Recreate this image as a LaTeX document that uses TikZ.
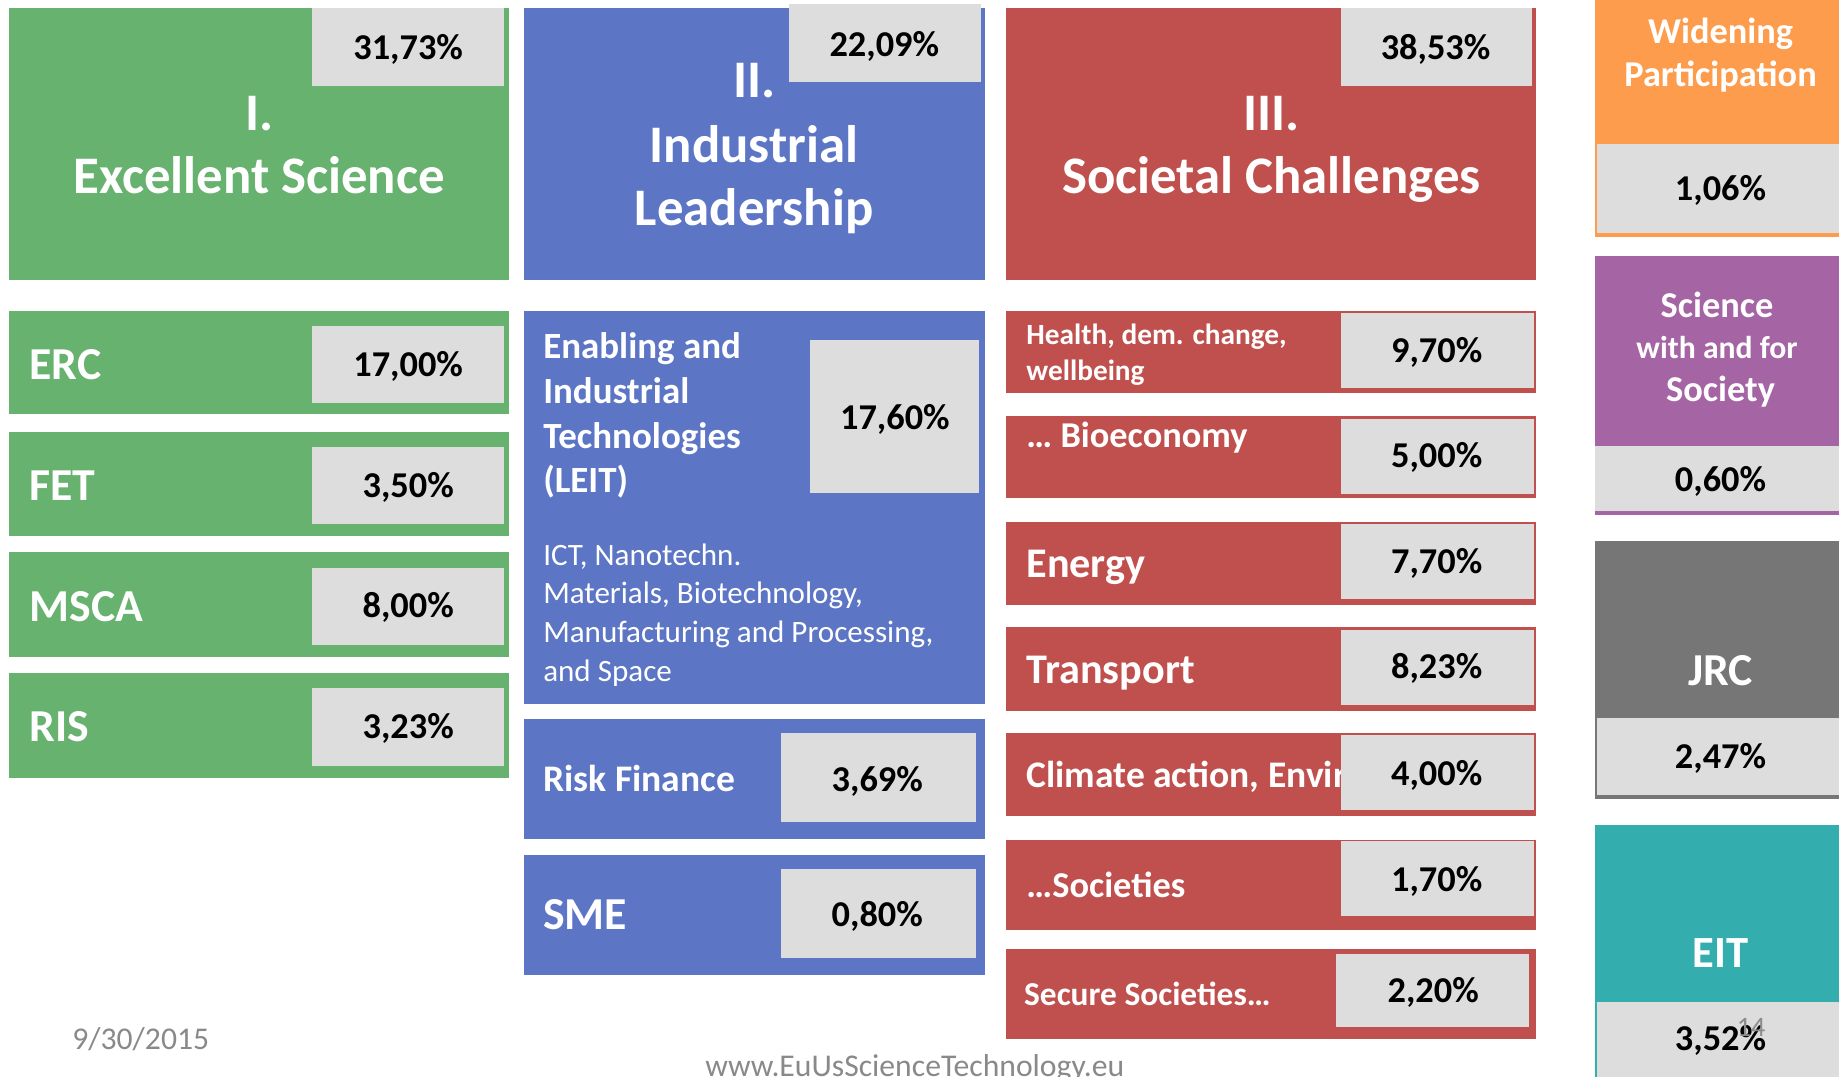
\documentclass[tikz,border=0pt]{standalone}
\usepackage{fontspec}
\setmainfont{Carlito}
\definecolor{grn}{RGB}{103,178,111}
\definecolor{blu}{RGB}{92,118,197}
\definecolor{rd}{RGB}{192,80,77}
\definecolor{org}{RGB}{253,156,77}
\definecolor{prp}{RGB}{165,101,164}
\definecolor{gry}{RGB}{118,118,118}
\definecolor{tea}{RGB}{51,173,174}
\definecolor{pg}{RGB}{221,221,221}
\definecolor{ft}{RGB}{137,137,137}
\newcommand\fz[1]{\fontsize{#1}{#1}\selectfont}
\begin{document}
\begin{tikzpicture}[x=1pt,y=-1pt,
 box/.style={inner sep=0pt, outer sep=0pt, anchor=north west, draw=none},
 pbox/.style={box, fill=pg},
 capc/.style={inner sep=0pt, anchor=base, yshift={-0.32*#1}},
 ttl/.style={capc=45, text=white, font=\bfseries\fz{45}},
 lab/.style={capc=#1, anchor=base west, text=white, font=\bfseries\fz{#1}},
 labc/.style={capc=#1, text=white, font=\bfseries\fz{#1}},
 pc/.style={capc=31, text=black, font=\bfseries\fz{31}},
 reg/.style={capc=26.5, anchor=base west, text=white, font=\fz{26.5}},
 foot/.style={capc=#1, text=ft, font=\fz{#1}},
]
\useasboundingbox (0,0) rectangle (1568,918);
\clip (0,0) rectangle (1568,918);

% ---------- Column I (green) ----------
\node[box, fill=grn, minimum width=426, minimum height=232] (es) at (8,7) {};
\node[pbox, minimum width=164, minimum height=66] (esp) at (266,7) {};
\node[pc] (espt) at (348,41) {31,73\%};
\node[ttl] (es1) at (221,97) {I.};
\node[ttl] (es2) at (221,151) {Excellent Science};

\node[box, fill=grn, minimum width=426, minimum height=88] (erc) at (8,265) {};
\node[pbox, minimum width=164, minimum height=66] (ercp) at (266,278) {};
\node[lab=39] (ercl) at (25,311) {ERC};
\node[pc] (ercpt) at (348,311) {17,00\%};

\node[box, fill=grn, minimum width=426, minimum height=89] (fet) at (8,368) {};
\node[pbox, minimum width=164, minimum height=66] (fetp) at (266,381) {};
\node[lab=39] (fetl) at (25,414) {FET};
\node[pc] (fetpt) at (348,414) {3,50\%};

\node[box, fill=grn, minimum width=426, minimum height=89] (msca) at (8,471) {};
\node[pbox, minimum width=164, minimum height=66] (mscap) at (266,484) {};
\node[lab=39] (mscal) at (25,517) {MSCA};
\node[pc] (mscapt) at (348,517) {8,00\%};

\node[box, fill=grn, minimum width=426, minimum height=89] (ris) at (8,574) {};
\node[pbox, minimum width=164, minimum height=66] (risp) at (266,587) {};
\node[lab=39] (risl) at (25,620) {RIS};
\node[pc] (rispt) at (348,620) {3,23\%};

% ---------- Column II (blue) ----------
\node[box, fill=blu, minimum width=393, minimum height=232] (il) at (447,7) {};
\node[pbox, minimum width=163, minimum height=67] (ilp) at (673,3) {};
\node[pc] (ilpt) at (754,38) {22,09\%};
\node[ttl] (il1) at (643,69) {II.};
\node[ttl] (il2) at (643,124) {Industrial};
\node[ttl] (il3) at (643,178) {Leadership};

\node[box, fill=blu, minimum width=393, minimum height=335] (leit) at (447,265) {};
\node[pbox, minimum width=144, minimum height=130] (leitp) at (691,290) {};
\node[pc] (leitpt) at (763,356) {17,60\%};
\node[lab=31.5] (leit1) at (463,296) {Enabling and};
\node[lab=31.5] (leit2) at (463,334) {Industrial};
\node[lab=31.5] (leit3) at (463,372) {Technologies};
\node[lab=31.5] (leit4) at (463,410) {(LEIT)};
\node[reg] (leit5) at (463,473.5) {ICT, Nanotechn.};
\node[reg] (leit6) at (463,506.5) {Materials, Biotechnology,};
\node[reg] (leit7) at (463,539.5) {Manufacturing and Processing,};
\node[reg] (leit8) at (463,572.5) {and Space};

\node[box, fill=blu, minimum width=393, minimum height=102] (rf) at (447,613) {};
\node[pbox, minimum width=166, minimum height=76] (rfp) at (666,625) {};
\node[lab=32] (rfl) at (463,665) {Risk Finance};
\node[pc] (rfpt) at (748,665) {3,69\%};

\node[box, fill=blu, minimum width=393, minimum height=102] (sme) at (447,729) {};
\node[pbox, minimum width=166, minimum height=76] (smep) at (666,741) {};
\node[lab=39] (smel) at (463,780) {SME};
\node[pc] (smept) at (748,780) {0,80\%};

% ---------- Column III (red) ----------
\node[box, fill=rd, minimum width=452, minimum height=232] (sc) at (858,7) {};
\node[pbox, minimum width=163, minimum height=66] (scp) at (1143,7) {};
\node[pc] (scpt) at (1224,41) {38,53\%};
\node[ttl] (sc1) at (1084,97) {III.};
\node[ttl] (sc2) at (1084,151) {Societal Challenges};

\node[box, fill=rd, minimum width=452, minimum height=70] (hl) at (858,265) {};
\node[lab=25] (hl1) at (875,286) {Health, dem. change,};
\node[lab=25] (hl2) at (875,316) {wellbeing};
\node[pbox, minimum width=165, minimum height=64] (hlp) at (1143,267) {};
\node[pc] (hlpt) at (1225,299) {9,70\%};

\node[box, fill=rd, minimum width=452, minimum height=70] (bio) at (858,355) {};
\node[lab=31] (biol) at (875,372) {… Bioeconomy};
\node[pbox, minimum width=165, minimum height=64] (biop) at (1143,357) {};
\node[pc] (biopt) at (1225,389) {5,00\%};

\node[box, fill=rd, minimum width=452, minimum height=71] (en) at (858,445) {};
\node[lab=36] (enl) at (875,481) {Energy};
\node[pbox, minimum width=165, minimum height=64] (enp) at (1143,447) {};
\node[pc] (enpt) at (1225,479) {7,70\%};

\node[box, fill=rd, minimum width=452, minimum height=71] (tr) at (858,535) {};
\node[lab=36] (trl) at (875,571) {Transport};
\node[pbox, minimum width=165, minimum height=64] (trp) at (1143,537) {};
\node[pc] (trpt) at (1225,569) {8,23\%};

\node[box, fill=rd, minimum width=452, minimum height=71] (cl) at (858,625) {};
\begin{scope}
\clip (858,625) rectangle (1143,696);
\node[lab=32] (cll) at (875,661) {Climate action, Environment};
\end{scope}
\node[pbox, minimum width=165, minimum height=64] (clp) at (1143,627) {};
\node[pc] (clpt) at (1225,660) {4,00\%};

\node[box, fill=rd, minimum width=452, minimum height=77] (so) at (858,716) {};
\node[lab=31] (sol) at (875,755) {…Societies};
\node[pbox, minimum width=165, minimum height=64] (sop) at (1143,717) {};
\node[pc] (sopt) at (1225,750) {1,70\%};

\node[box, fill=rd, minimum width=452, minimum height=77] (se) at (858,809) {};
\node[lab=28.5] (sel) at (873,848) {Secure Societies…};
\node[pbox, minimum width=165, minimum height=63] (sep) at (1139,813) {};
\node[pc] (sept) at (1222,845) {2,20\%};

% ---------- Column IV ----------
\node[box, fill=org, minimum width=212, minimum height=202] (wp) at (1360,0) {};
\node[pbox, minimum width=212, minimum height=76] (wpp) at (1362,123) {};
\node[labc=31] (wp1) at (1467,27) {Widening};
\node[labc=31] (wp2) at (1467,64) {Participation};
\node[pc] (wppt) at (1467,161) {1,06\%};

\node[box, fill=prp, minimum width=212, minimum height=221] (sw) at (1360,218) {};
\node[pbox, minimum width=212, minimum height=56] (swp) at (1360,380) {};
\node[labc=31] (sw1) at (1464,261) {Science};
\node[labc=27] (sw2) at (1464,297) {with and for};
\node[labc=31] (sw3) at (1467,332) {Society};
\node[pc] (swpt) at (1467,409) {0,60\%};

\node[box, fill=gry, minimum width=212, minimum height=220] (jrc) at (1360,461) {};
\node[pbox, minimum width=212, minimum height=66] (jrcp) at (1362,612) {};
\node[labc=39] (jrcl) at (1467,572) {JRC};
\node[pc] (jrcpt) at (1467,645) {2,47\%};

\node[box, fill=tea, minimum width=212, minimum height=220] (eit) at (1360,703) {};
\node[pbox, minimum width=212, minimum height=70] (eitp) at (1362,854) {};
\node[labc=38] (eitl) at (1467,813) {EIT};
\node[pc] (eitpt) at (1467,886) {3,52\%};
\node[foot=24, text=black!45] (slide) at (1493,876) {14};

% ---------- Footer ----------
\node[foot=27] (date) at (120,886.5) {9/30/2015};
\node[foot=27] (url) at (780,909) {www.EuUsScienceTechnology.eu};
\end{tikzpicture}
\end{document}
